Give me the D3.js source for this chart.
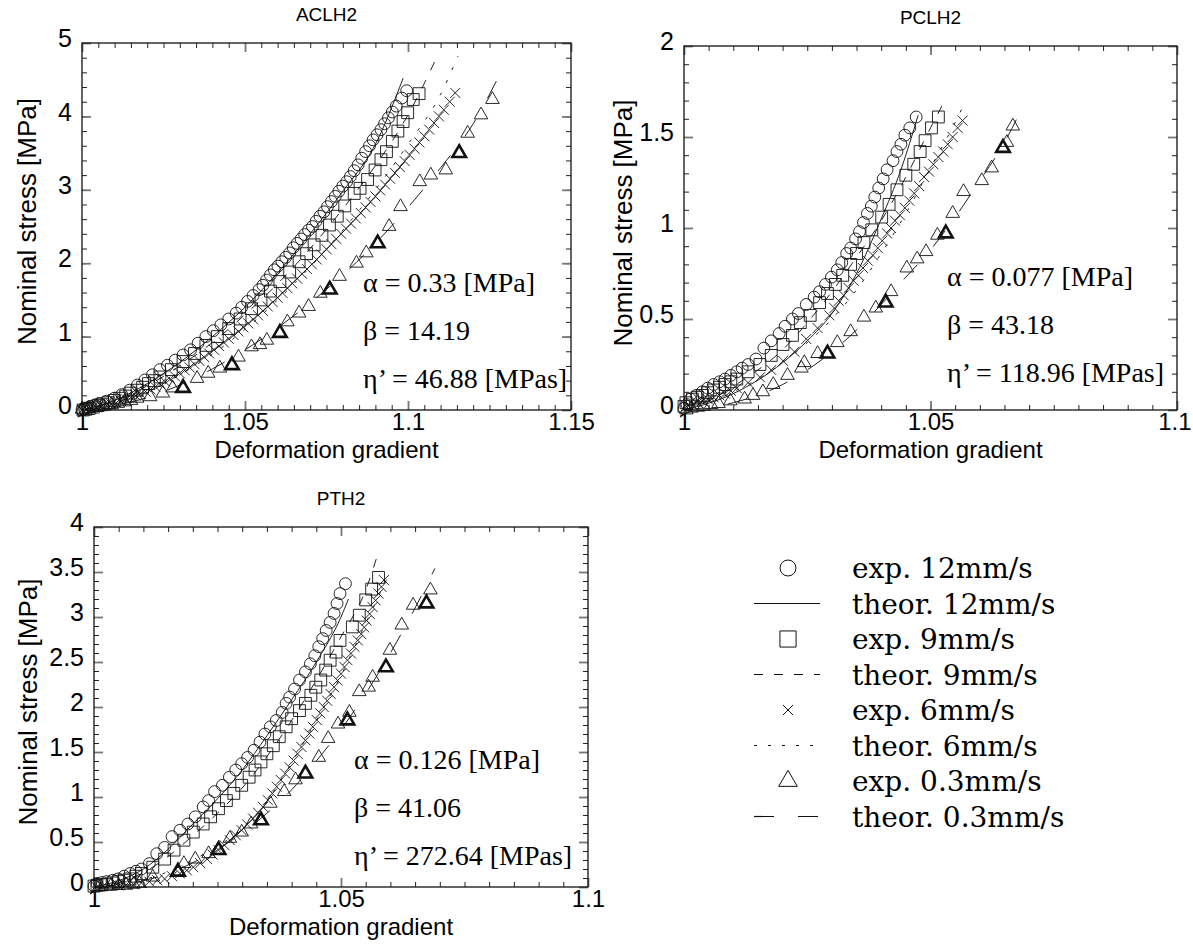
<!DOCTYPE html>
<html>
<head>
<meta charset="utf-8">
<script src="https://cdn.jsdelivr.net/npm/d3@7"></script>
<style>
  body { margin: 0; background: #fff; }
  svg text { font-family: "Liberation Sans", Arial, sans-serif; fill: #000; }
  .note { font-family: "Liberation Serif", "Times New Roman", serif; }
  .legend text { font-family: "DejaVu Serif", serif; }
</style>
</head>
<body>
<div id="vis"></div>
<script>
// ---- categories / labels ----
const speeds = ["12mm/s", "9mm/s", "6mm/s", "0.3mm/s"];
const legendLabels = [
  "exp. 12mm/s", "theor. 12mm/s", "exp. 9mm/s", "theor. 9mm/s",
  "exp. 6mm/s", "theor. 6mm/s", "exp. 0.3mm/s", "theor. 0.3mm/s"
];

// ---- ACLH2 ----
const aclh2XTicks = [1, 1.05, 1.1, 1.15];
const aclh2YTicks = [0, 1, 2, 3, 4, 5];
const aclh2Params = ["α = 0.33 [MPa]", "β = 14.19", "η’ = 46.88 [MPas]"];
const aclh2Exp12 = [[1.000,0.00],[1.0008,0.01],[1.0015,0.03],[1.0026,0.05],[1.0040,0.07],[1.0053,0.09],[1.0075,0.12],[1.0099,0.16],[1.0122,0.21],[1.0146,0.27],[1.0170,0.34],[1.0193,0.41],[1.0216,0.48],[1.0239,0.55],[1.0262,0.61],[1.0286,0.68],[1.0310,0.75],[1.0333,0.82],[1.0356,0.91],[1.0380,1.00],[1.0403,1.08],[1.0426,1.16],[1.0450,1.24],[1.0473,1.32],[1.0490,1.40],[1.0508,1.48],[1.0525,1.56],[1.0543,1.64],[1.0555,1.70],[1.0566,1.77],[1.0578,1.84],[1.0590,1.91],[1.0601,1.96],[1.0613,2.02],[1.0625,2.08],[1.0637,2.14],[1.0648,2.21],[1.0660,2.27],[1.0672,2.33],[1.0683,2.39],[1.0695,2.45],[1.0707,2.50],[1.0718,2.57],[1.0730,2.64],[1.0742,2.70],[1.0753,2.77],[1.0765,2.84],[1.0777,2.91],[1.0788,2.98],[1.0800,3.05],[1.0812,3.11],[1.0823,3.18],[1.0835,3.26],[1.0847,3.34],[1.0858,3.43],[1.0870,3.52],[1.0882,3.60],[1.0893,3.68],[1.0905,3.75],[1.0917,3.82],[1.0928,3.90],[1.0940,3.98],[1.0952,4.06],[1.0964,4.14],[1.0981,4.25],[1.0996,4.35]];
const aclh2Exp9 = [[1.0003,0.00],[1.0012,0.01],[1.0022,0.02],[1.0035,0.04],[1.0050,0.06],[1.0064,0.08],[1.0080,0.10],[1.0099,0.13],[1.0116,0.16],[1.0134,0.19],[1.0150,0.23],[1.0169,0.27],[1.0186,0.31],[1.0204,0.36],[1.0222,0.40],[1.0239,0.45],[1.0274,0.55],[1.0310,0.66],[1.0345,0.77],[1.0380,0.88],[1.0415,1.00],[1.0450,1.11],[1.0485,1.24],[1.0520,1.38],[1.0549,1.50],[1.0578,1.62],[1.0607,1.75],[1.0637,1.88],[1.0666,2.02],[1.0689,2.13],[1.0712,2.25],[1.0736,2.38],[1.0759,2.52],[1.0783,2.64],[1.0806,2.78],[1.0835,2.95],[1.0853,3.02],[1.0876,3.14],[1.0899,3.27],[1.0917,3.41],[1.0934,3.52],[1.0952,3.66],[1.0969,3.80],[1.0985,3.93],[1.0999,4.05],[1.1016,4.23],[1.1034,4.31]];
const aclh2Exp6 = [[1.000,0.00],[1.0015,0.01],[1.003,0.02],[1.0045,0.035],[1.006,0.05],[1.0075,0.065],[1.009,0.08],[1.0105,0.10],[1.012,0.12],[1.0135,0.145],[1.015,0.17],[1.0165,0.195],[1.018,0.22],[1.0195,0.25],[1.021,0.28],[1.0225,0.315],[1.024,0.35],[1.0255,0.385],[1.027,0.42],[1.0285,0.46],[1.030,0.50],[1.0315,0.54],[1.033,0.58],[1.0345,0.625],[1.036,0.67],[1.0375,0.72],[1.039,0.77],[1.0405,0.82],[1.042,0.87],[1.0435,0.92],[1.045,0.97],[1.0465,1.02],[1.048,1.07],[1.0495,1.125],[1.051,1.18],[1.0525,1.235],[1.054,1.29],[1.0555,1.35],[1.057,1.41],[1.0585,1.47],[1.060,1.53],[1.0615,1.595],[1.063,1.66],[1.0645,1.725],[1.066,1.79],[1.0675,1.855],[1.069,1.92],[1.0705,1.985],[1.072,2.05],[1.0735,2.12],[1.075,2.19],[1.0765,2.26],[1.078,2.33],[1.0795,2.40],[1.081,2.47],[1.0825,2.54],[1.084,2.61],[1.0855,2.685],[1.087,2.76],[1.0885,2.835],[1.090,2.91],[1.0915,2.99],[1.093,3.07],[1.0945,3.15],[1.096,3.23],[1.0975,3.31],[1.099,3.39],[1.1005,3.475],[1.102,3.56],[1.1035,3.645],[1.105,3.73],[1.1065,3.82],[1.108,3.91],[1.1095,4.00],[1.111,4.09],[1.1128,4.20],[1.1145,4.32]];
const aclh2Exp03 = [[1.000,0.01],[1.0020,0.02],[1.0044,0.04],[1.0068,0.05],[1.0091,0.07],[1.0110,0.09],[1.0130,0.11],[1.0150,0.13],[1.0169,0.16],[1.0209,0.18],[1.0248,0.23],[1.0278,0.30],[1.0310,0.30],[1.0353,0.43],[1.0387,0.50],[1.0423,0.57],[1.0460,0.61],[1.0480,0.72],[1.0520,0.86],[1.0546,0.89],[1.0567,0.95],[1.0607,1.05],[1.0630,1.20],[1.0666,1.32],[1.0695,1.41],[1.0731,1.59],[1.0760,1.64],[1.0790,1.82],[1.0842,2.00],[1.0872,2.14],[1.0907,2.27],[1.0942,2.50],[1.0977,2.77],[1.1036,3.11],[1.1070,3.20],[1.1116,3.27],[1.1157,3.50],[1.1183,3.77],[1.1224,4.02],[1.1259,4.23]];
const aclh2Exp03Bold = [[1.0310,0.30],[1.0460,0.61],[1.0607,1.05],[1.0760,1.64],[1.0907,2.27],[1.1157,3.50]];
const aclh2Th12 = [[1,0],[1.01,0.13],[1.02,0.36],[1.03,0.65],[1.04,1.0],[1.05,1.4],[1.06,1.87],[1.07,2.4],[1.08,2.98],[1.09,3.62],[1.0985,4.52]];
const aclh2Th9 = [[1,0],[1.01,0.12],[1.02,0.33],[1.03,0.6],[1.04,0.92],[1.05,1.3],[1.06,1.72],[1.07,2.2],[1.08,2.74],[1.09,3.33],[1.1,4.02],[1.1094,4.86]];
const aclh2Th6 = [[1,0],[1.01,0.1],[1.02,0.26],[1.03,0.48],[1.04,0.76],[1.05,1.1],[1.06,1.5],[1.07,1.95],[1.08,2.45],[1.09,3.0],[1.1,3.62],[1.11,4.3],[1.1153,4.82]];
const aclh2Th03 = [[1,0],[1.01,0.06],[1.02,0.17],[1.03,0.34],[1.04,0.56],[1.05,0.82],[1.06,1.12],[1.07,1.46],[1.08,1.84],[1.09,2.27],[1.1,2.76],[1.11,3.3],[1.12,3.9],[1.1271,4.48]];

// ---- PCLH2 ----
const pclh2XTicks = [1, 1.05, 1.1];
const pclh2YTicks = [0, 0.5, 1, 1.5, 2];
const pclh2Params = ["α = 0.077 [MPa]", "β = 43.18", "η’ = 118.96 [MPas]"];
const pclh2Exp12 = [[1.0000,0.01],[1.0006,0.03],[1.0013,0.06],[1.0025,0.08],[1.0037,0.10],[1.0048,0.12],[1.0060,0.14],[1.0072,0.155],[1.0083,0.17],[1.0095,0.19],[1.0107,0.21],[1.0118,0.23],[1.0130,0.25],[1.0146,0.28],[1.0162,0.34],[1.0177,0.38],[1.0193,0.42],[1.0205,0.46],[1.0220,0.50],[1.0232,0.53],[1.0248,0.58],[1.0264,0.62],[1.0275,0.65],[1.0287,0.69],[1.0299,0.73],[1.0311,0.77],[1.0320,0.81],[1.0330,0.86],[1.0338,0.89],[1.0348,0.94],[1.0356,0.98],[1.0364,1.03],[1.0372,1.08],[1.0380,1.12],[1.0387,1.17],[1.0395,1.22],[1.0404,1.27],[1.0412,1.32],[1.0424,1.37],[1.0432,1.42],[1.0440,1.46],[1.0448,1.51],[1.0458,1.55],[1.0471,1.61]];
const pclh2Exp9 = [[1.0000,0.02],[1.0004,0.04],[1.0017,0.06],[1.0027,0.07],[1.0037,0.08],[1.0048,0.095],[1.0060,0.11],[1.0072,0.125],[1.0083,0.14],[1.0095,0.155],[1.0107,0.17],[1.0130,0.21],[1.0154,0.25],[1.0177,0.30],[1.0201,0.36],[1.0220,0.41],[1.0236,0.48],[1.0256,0.52],[1.0275,0.59],[1.0291,0.64],[1.0307,0.69],[1.0322,0.74],[1.0338,0.80],[1.0350,0.86],[1.0365,0.92],[1.0381,0.99],[1.0401,1.06],[1.0416,1.13],[1.0432,1.21],[1.0450,1.29],[1.0466,1.35],[1.0479,1.42],[1.0489,1.48],[1.0502,1.55],[1.0516,1.61]];
const pclh2Exp6 = [[1.0005,0.02],[1.0013,0.04],[1.0025,0.045],[1.0037,0.05],[1.0048,0.06],[1.0060,0.07],[1.0072,0.08],[1.0083,0.09],[1.0095,0.105],[1.0107,0.12],[1.0130,0.15],[1.0154,0.18],[1.0177,0.22],[1.0201,0.27],[1.0224,0.32],[1.0248,0.39],[1.0271,0.45],[1.0295,0.52],[1.0305,0.56],[1.0314,0.60],[1.0324,0.63],[1.0334,0.67],[1.0344,0.71],[1.0354,0.74],[1.0363,0.78],[1.0373,0.82],[1.0383,0.85],[1.0393,0.89],[1.0402,0.93],[1.0412,0.97],[1.0420,1.00],[1.0428,1.04],[1.0438,1.07],[1.0448,1.11],[1.0457,1.15],[1.0467,1.19],[1.0477,1.23],[1.0487,1.28],[1.0497,1.31],[1.0506,1.35],[1.0516,1.39],[1.0526,1.42],[1.0535,1.46],[1.0545,1.50],[1.0555,1.55],[1.0565,1.59]];
const pclh2Exp03 = [[1.0005,0.00],[1.0015,0.01],[1.0028,0.015],[1.0040,0.02],[1.0055,0.03],[1.0070,0.035],[1.0094,0.05],[1.0123,0.06],[1.0140,0.08],[1.0160,0.10],[1.0181,0.14],[1.0210,0.19],[1.0238,0.23],[1.0244,0.26],[1.0271,0.31],[1.0291,0.31],[1.0311,0.37],[1.0338,0.43],[1.0365,0.51],[1.0389,0.56],[1.0409,0.59],[1.0420,0.65],[1.0452,0.78],[1.0473,0.83],[1.0491,0.87],[1.0514,0.96],[1.0531,0.97],[1.0545,1.08],[1.0567,1.20],[1.0604,1.26],[1.0624,1.33],[1.0647,1.44],[1.0655,1.47],[1.0667,1.56]];
const pclh2Exp03Bold = [[1.0291,0.31],[1.0409,0.59],[1.0531,0.97],[1.0647,1.44]];
const pclh2Th12 = [[1,0],[1.01,0.09],[1.02,0.26],[1.025,0.38],[1.03,0.53],[1.035,0.75],[1.04,1.05],[1.044,1.32],[1.0475,1.62]];
const pclh2Th9 = [[1,0],[1.005,0.05],[1.01,0.13],[1.015,0.22],[1.02,0.33],[1.025,0.48],[1.03,0.65],[1.035,0.84],[1.04,1.04],[1.045,1.28],[1.05,1.55],[1.0525,1.68]];
const pclh2Th6 = [[1,0],[1.005,0.04],[1.01,0.1],[1.015,0.17],[1.02,0.26],[1.025,0.37],[1.03,0.5],[1.035,0.66],[1.04,0.86],[1.045,1.08],[1.05,1.33],[1.055,1.58],[1.057,1.69]];
const pclh2Th03 = [[1,0],[1.01,0.04],[1.02,0.14],[1.025,0.22],[1.03,0.32],[1.035,0.44],[1.04,0.58],[1.045,0.73],[1.05,0.88],[1.055,1.06],[1.06,1.26],[1.065,1.47],[1.0675,1.6]];

// ---- PTH2 ----
const pth2XTicks = [1, 1.05, 1.1];
const pth2YTicks = [0, 0.5, 1, 1.5, 2, 2.5, 3, 3.5, 4];
const pth2Params = ["α = 0.126 [MPa]", "β = 41.06", "η’ = 272.64 [MPas]"];
const pth2Exp12 = [[1.0000,0.01],[1.0006,0.04],[1.0016,0.05],[1.0026,0.06],[1.0038,0.075],[1.0049,0.09],[1.0061,0.12],[1.0073,0.15],[1.0085,0.175],[1.0096,0.20],[1.0112,0.26],[1.0127,0.37],[1.0143,0.44],[1.0158,0.56],[1.0174,0.63],[1.0190,0.70],[1.0205,0.78],[1.0221,0.89],[1.0232,0.96],[1.0244,1.06],[1.0260,1.13],[1.0274,1.22],[1.0287,1.30],[1.0299,1.37],[1.0311,1.44],[1.0324,1.52],[1.0336,1.61],[1.0346,1.70],[1.0357,1.78],[1.0369,1.85],[1.0381,1.94],[1.0389,2.04],[1.0396,2.11],[1.0406,2.20],[1.0416,2.30],[1.0428,2.39],[1.0438,2.48],[1.0447,2.57],[1.0455,2.67],[1.0463,2.76],[1.0470,2.85],[1.0478,2.94],[1.0486,3.04],[1.0492,3.15],[1.0498,3.26],[1.0509,3.37]];
const pth2Exp9 = [[1.0000,0.01],[1.0006,0.02],[1.0016,0.025],[1.0026,0.03],[1.0038,0.045],[1.0049,0.06],[1.0061,0.075],[1.0073,0.09],[1.0085,0.12],[1.0096,0.15],[1.0119,0.22],[1.0143,0.31],[1.0162,0.41],[1.0182,0.52],[1.0201,0.61],[1.0221,0.70],[1.0236,0.78],[1.0252,0.87],[1.0268,0.96],[1.0283,1.04],[1.0299,1.13],[1.0314,1.22],[1.0326,1.30],[1.0338,1.39],[1.0350,1.48],[1.0363,1.57],[1.0375,1.67],[1.0389,1.78],[1.0400,1.87],[1.0416,1.96],[1.0428,2.04],[1.0439,2.13],[1.0449,2.22],[1.0459,2.30],[1.0469,2.41],[1.0478,2.52],[1.0490,2.61],[1.0498,2.74],[1.0523,2.89],[1.0537,3.02],[1.0550,3.19],[1.0562,3.31],[1.0576,3.44]];
const pth2Exp6 = [[1.0005,0.00],[1.0018,0.01],[1.0033,0.015],[1.0049,0.02],[1.0065,0.025],[1.0080,0.03],[1.0096,0.045],[1.0112,0.06],[1.0128,0.075],[1.0143,0.09],[1.0158,0.12],[1.0174,0.15],[1.0188,0.185],[1.0201,0.22],[1.0215,0.265],[1.0229,0.31],[1.0240,0.36],[1.0252,0.41],[1.0264,0.465],[1.0275,0.52],[1.0287,0.575],[1.0299,0.63],[1.0310,0.695],[1.0322,0.76],[1.0332,0.825],[1.0342,0.89],[1.0352,0.965],[1.0361,1.04],[1.0370,1.115],[1.0378,1.19],[1.0387,1.26],[1.0396,1.33],[1.0404,1.405],[1.0412,1.48],[1.0420,1.555],[1.0428,1.63],[1.0436,1.705],[1.0443,1.78],[1.0451,1.855],[1.0458,1.93],[1.0465,2.00],[1.0472,2.07],[1.0479,2.145],[1.0486,2.22],[1.0493,2.295],[1.0500,2.37],[1.0507,2.445],[1.0513,2.52],[1.0520,2.595],[1.0527,2.67],[1.0534,2.74],[1.0541,2.81],[1.0547,2.885],[1.0552,2.96],[1.0558,3.035],[1.0564,3.11],[1.0570,3.185],[1.0576,3.26],[1.0582,3.335],[1.0587,3.41]];
const pth2Exp03 = [[1.0010,0.00],[1.0034,0.01],[1.0050,0.015],[1.0065,0.02],[1.0080,0.03],[1.0092,0.04],[1.0119,0.11],[1.0170,0.17],[1.0182,0.26],[1.0205,0.31],[1.0232,0.37],[1.0252,0.41],[1.0275,0.54],[1.0299,0.61],[1.0318,0.70],[1.0338,0.74],[1.0357,0.93],[1.0385,1.06],[1.0408,1.19],[1.0428,1.26],[1.0455,1.44],[1.0474,1.65],[1.0494,1.81],[1.0513,1.85],[1.0517,1.94],[1.0537,2.17],[1.0556,2.22],[1.0564,2.33],[1.0591,2.44],[1.0599,2.63],[1.0623,2.91],[1.0646,3.13],[1.0673,3.15],[1.0681,3.30]];
const pth2Exp03Bold = [[1.0170,0.17],[1.0252,0.41],[1.0338,0.74],[1.0428,1.26],[1.0513,1.85],[1.0591,2.44],[1.0673,3.15]];
const pth2Th12 = [[1,0],[1.005,0.07],[1.01,0.2],[1.015,0.42],[1.02,0.7],[1.025,0.98],[1.03,1.3],[1.035,1.68],[1.04,2.08],[1.045,2.5],[1.05,3.0],[1.0515,3.2]];
const pth2Th9 = [[1,0],[1.005,0.05],[1.01,0.16],[1.015,0.34],[1.02,0.57],[1.025,0.82],[1.03,1.1],[1.035,1.45],[1.04,1.85],[1.045,2.3],[1.05,2.78],[1.055,3.3],[1.0578,3.76]];
const pth2Th6 = [[1,0],[1.005,0.03],[1.01,0.08],[1.015,0.17],[1.02,0.3],[1.025,0.45],[1.03,0.65],[1.035,0.95],[1.04,1.38],[1.045,1.85],[1.05,2.35],[1.055,2.93],[1.0595,3.45]];
const pth2Th03 = [[1,0],[1.01,0.07],[1.015,0.15],[1.02,0.27],[1.025,0.42],[1.03,0.6],[1.035,0.82],[1.04,1.08],[1.045,1.4],[1.05,1.75],[1.055,2.15],[1.06,2.6],[1.065,3.1],[1.069,3.54]];

// ---- drawing ----
const W = 1193, H = 946;
const svg = d3.select("#vis").append("svg")
  .attr("width", W)
  .attr("height", H);

const timesPath = s => `M${-s},${-s}L${s},${s}M${-s},${s}L${s},${-s}`;
const markers = {
  circle: d3.symbol(d3.symbolCircle, 110)(),
  square: d3.symbol(d3.symbolSquare, 140)(),
  triangle: d3.symbol(d3.symbolTriangle, 80)(),
  times: timesPath(5)
};

// dash styles of theory lines, same order as speeds
const lineDash = [null, "9,11", "3,11", "20,24"];

function drawPanel(p) {
  const g = svg.append("g").attr("transform", `translate(${p.left},${p.top})`);

  const x = d3.scaleLinear().domain(p.xDomain).range([0, p.width]);
  const y = d3.scaleLinear().domain(p.yDomain).range([p.height, 0]);

  const minorX = d3.range(p.xDomain[0], p.xDomain[1] + 1e-9, p.xMinor);
  const minorY = d3.range(p.yDomain[0], p.yDomain[1] + 1e-9, p.yMinor);
  const fmt = d => String(+d.toFixed(3));

  // minor ticks, all four sides, pointing in
  const minor = [
    [d3.axisBottom(x).tickValues(minorX), `translate(0,${p.height})`],
    [d3.axisTop(x).tickValues(minorX), null],
    [d3.axisLeft(y).tickValues(minorY), null],
    [d3.axisRight(y).tickValues(minorY), `translate(${p.width},0)`]
  ];
  minor.forEach(([ax, tr]) => {
    g.append("g")
      .attr("transform", tr)
      .call(ax.tickSize(-5).tickFormat(""))
      .call(a => a.select(".domain").remove())
      .selectAll("line")
      .attr("stroke", "#222")
      .attr("stroke-width", 1);
  });

  // major ticks
  const xb = g.append("g")
    .attr("transform", `translate(0,${p.height})`)
    .call(d3.axisBottom(x).tickValues(p.xTicks).tickSize(-9).tickPadding(3).tickFormat(fmt))
    .call(a => a.select(".domain").remove());
  xb.selectAll("text")
    .attr("font-size", 24)
    .attr("font-family", "Liberation Sans, Arial, sans-serif");
  // last label would run off the page edge on the right-hand panel
  xb.selectAll("text")
    .filter(function () { return p.left + p.width + 18 > W && d3.select(this).datum() === p.xTicks[p.xTicks.length - 1]; })
    .attr("text-anchor", "end")
    .attr("x", 14);

  g.append("g")
    .call(d3.axisTop(x).tickValues(p.xTicks).tickSize(-9).tickFormat(""))
    .call(a => a.select(".domain").remove());

  const yl = g.append("g")
    .call(d3.axisLeft(y).tickValues(p.yTicks).tickSize(-9).tickPadding(10).tickFormat(fmt))
    .call(a => a.select(".domain").remove());
  yl.selectAll("text")
    .attr("font-size", 25)
    .attr("font-family", "Liberation Sans, Arial, sans-serif")
    .attr("dy", "0.15em");

  g.append("g")
    .attr("transform", `translate(${p.width},0)`)
    .call(d3.axisRight(y).tickValues(p.yTicks).tickSize(-9).tickFormat(""))
    .call(a => a.select(".domain").remove());

  g.selectAll(".tick line")
    .filter(function () { return Math.abs(+d3.select(this).attr("x2") || +d3.select(this).attr("y2")) > 6; })
    .attr("stroke", "#777")
    .attr("stroke-width", 1.8);

  // frame
  g.append("rect")
    .attr("width", p.width)
    .attr("height", p.height)
    .attr("fill", "none")
    .attr("stroke", "#111")
    .attr("stroke-width", 1.3);

  // theory curves
  const line = d3.line()
    .x(d => x(d[0]))
    .y(d => y(d[1]))
    .curve(d3.curveMonotoneX);

  p.theory.forEach((data, i) => {
    g.append("path")
      .datum(data)
      .attr("d", line)
      .attr("fill", "none")
      .attr("stroke", "#222")
      .attr("stroke-width", 1)
      .attr("stroke-dasharray", lineDash[i]);
  });

  // experimental points
  const shapeNames = ["circle", "square", "times", "triangle"];
  p.exp.forEach((data, i) => {
    g.append("g")
      .selectAll("path")
      .data(data)
      .join("path")
      .attr("transform", d => `translate(${x(d[0])},${y(d[1])})`)
      .attr("d", markers[shapeNames[i]])
      .attr("fill", "none")
      .attr("stroke", "#111")
      .attr("stroke-width", 0.9);
  });

  g.append("g")
    .selectAll("path")
    .data(p.bold)
    .join("path")
    .attr("transform", d => `translate(${x(d[0])},${y(d[1])})`)
    .attr("d", markers.triangle)
    .attr("fill", "none")
    .attr("stroke", "#111")
    .attr("stroke-width", 2.6);

  // labels
  g.append("text")
    .attr("x", p.width / 2)
    .attr("y", -22)
    .attr("text-anchor", "middle")
    .attr("font-size", 19)
    .text(p.title);

  g.append("text")
    .attr("x", p.width / 2)
    .attr("y", p.height + 48)
    .attr("text-anchor", "middle")
    .attr("font-size", 24)
    .text("Deformation gradient");

  g.append("text")
    .attr("transform", `translate(${p.yTitleX},${p.height / 2 - 5}) rotate(-90)`)
    .attr("text-anchor", "middle")
    .attr("dominant-baseline", "central")
    .attr("font-size", 26)
    .text("Nominal stress [MPa]");

  g.append("g")
    .selectAll("text")
    .data(p.params)
    .join("text")
    .attr("class", "note")
    .attr("x", p.noteX)
    .attr("y", (d, i) => p.noteY + i * p.noteStep)
    .attr("font-size", 28)
    .text(d => d);
}

drawPanel({
  title: "ACLH2", left: 82, top: 43, width: 489, height: 367,
  xDomain: [1, 1.15], yDomain: [0, 5], xMinor: 0.005, yMinor: 0.2,
  xTicks: aclh2XTicks, yTicks: aclh2YTicks,
  exp: [aclh2Exp12, aclh2Exp9, aclh2Exp6, aclh2Exp03], bold: aclh2Exp03Bold,
  theory: [aclh2Th12, aclh2Th9, aclh2Th6, aclh2Th03],
  params: aclh2Params, noteX: 281, noteY: 249, noteStep: 48, yTitleX: -55
});

drawPanel({
  title: "PCLH2", left: 684, top: 46, width: 493, height: 364,
  xDomain: [1, 1.1], yDomain: [0, 2], xMinor: 0.005, yMinor: 0.1,
  xTicks: pclh2XTicks, yTicks: pclh2YTicks,
  exp: [pclh2Exp12, pclh2Exp9, pclh2Exp6, pclh2Exp03], bold: pclh2Exp03Bold,
  theory: [pclh2Th12, pclh2Th9, pclh2Th6, pclh2Th03],
  params: pclh2Params, noteX: 263, noteY: 240, noteStep: 48, yTitleX: -61
});

drawPanel({
  title: "PTH2", left: 94, top: 527, width: 494, height: 360,
  xDomain: [1, 1.1], yDomain: [0, 4], xMinor: 0.005, yMinor: 0.1,
  xTicks: pth2XTicks, yTicks: pth2YTicks,
  exp: [pth2Exp12, pth2Exp9, pth2Exp6, pth2Exp03], bold: pth2Exp03Bold,
  theory: [pth2Th12, pth2Th9, pth2Th6, pth2Th03],
  params: pth2Params, noteX: 260, noteY: 242, noteStep: 48, yTitleX: -66
});

// legend
const legendItems = legendLabels.map((label, i) => ({
  label,
  kind: i % 2 === 0 ? "exp" : "theor",
  idx: Math.floor(i / 2)
}));

const legend = svg.append("g")
  .attr("class", "legend")
  .attr("transform", "translate(0,568)");

const legendShapes = {
  circle: d3.symbol(d3.symbolCircle, 200)(),
  square: d3.symbol(d3.symbolSquare, 260)(),
  triangle: d3.symbol(d3.symbolTriangle, 150)(),
  times: timesPath(5)
};
const legendShapeNames = ["circle", "square", "times", "triangle"];

const rows = legend.selectAll("g")
  .data(legendItems)
  .join("g")
  .attr("transform", (d, i) => `translate(0,${i * 35.5})`);

rows.filter(d => d.kind === "exp")
  .append("path")
  .attr("transform", "translate(788,0)")
  .attr("d", d => legendShapes[legendShapeNames[d.idx]])
  .attr("fill", "none")
  .attr("stroke", "#111")
  .attr("stroke-width", 1);

rows.filter(d => d.kind === "theor")
  .append("line")
  .attr("x1", 754)
  .attr("x2", 820)
  .attr("stroke", "#111")
  .attr("stroke-width", 1.2)
  .attr("stroke-dasharray", d => lineDash[d.idx]);

rows.append("text")
  .attr("x", 852)
  .attr("y", 10)
  .attr("font-size", 28)
  .text(d => d.label);
</script>
</body>
</html>
